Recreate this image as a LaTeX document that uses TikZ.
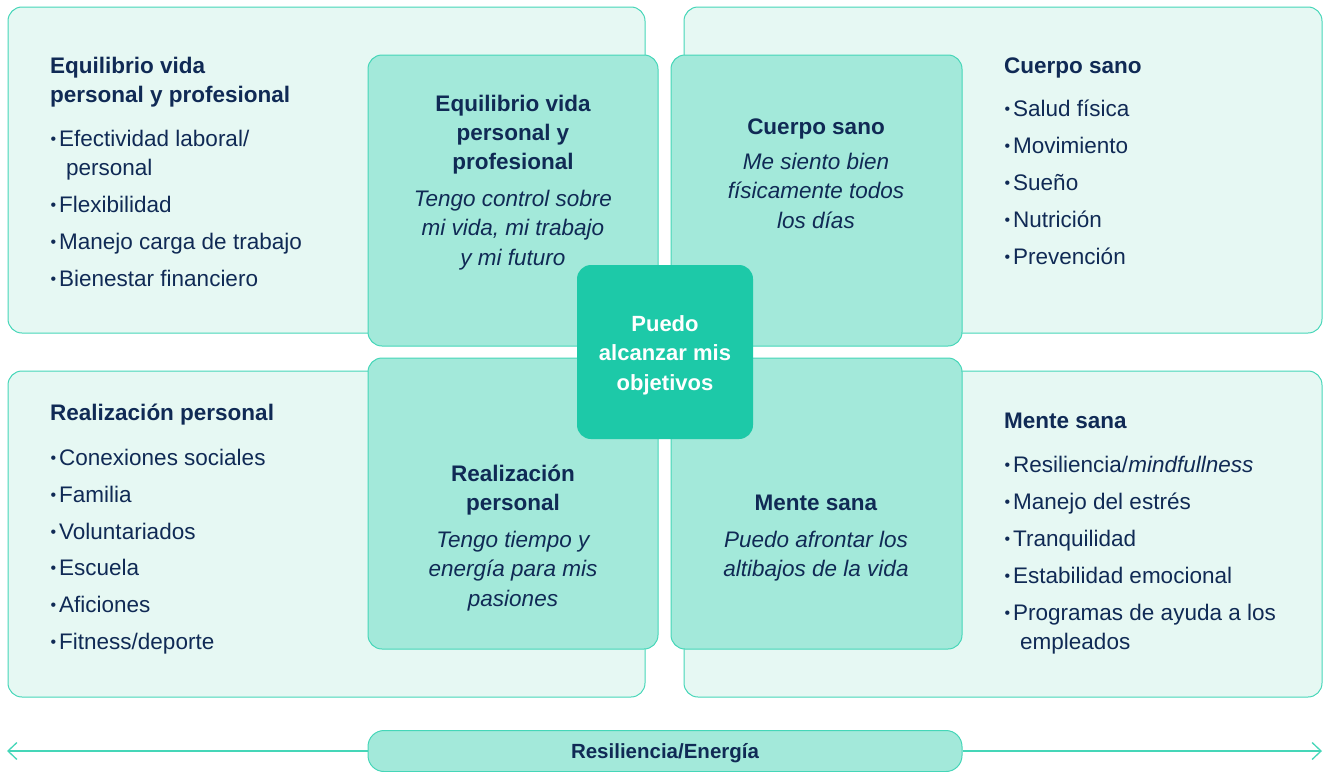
\documentclass[tikz,border=0pt]{standalone}
\usepackage{fontspec}
\setmainfont{Liberation Sans}
\usetikzlibrary{positioning, arrows.meta}
\definecolor{menta}{HTML}{E6F8F3}
\definecolor{agua}{HTML}{A3E9DA}
\definecolor{verde}{HTML}{1DC9A8}
\definecolor{borde}{HTML}{45D6B8}
\definecolor{marino}{HTML}{102A55}
\newcommand{\bul}{\makebox[0pt][r]{{\fontsize{16}{16}\selectfont\raisebox{1.5pt}{•}}\hspace{3pt}}}

\begin{document}
\begin{tikzpicture}[x=1pt,y=-1pt,
	outerbox/.style={draw=borde,fill=menta,line width=1pt,rounded corners=14pt},
	innerbox/.style={draw=borde,fill=agua,line width=1pt,rounded corners=14pt},
	ttl/.style={anchor=base west,inner sep=0,text=marino,font=\fontsize{22.5}{27}\selectfont\bfseries},
	itm/.style={anchor=base west,inner sep=0,text=marino,font=\fontsize{22.5}{27}\selectfont},
	ctrb/.style={anchor=base,inner sep=0,text=marino,font=\fontsize{22.5}{27}\selectfont\bfseries},
	ctri/.style={anchor=base,inner sep=0,text=marino,font=\fontsize{22.5}{27}\selectfont\itshape},
	hub/.style={fill=verde,rounded corners=14pt,minimum width=176pt,minimum height=174pt},
	hubtxt/.style={text=white,align=center,font=\fontsize{22}{29.5}\selectfont\bfseries},
	pill/.style={draw=borde,fill=agua,line width=1pt,rounded corners=16pt,minimum width=594pt,minimum height=41pt,text height=14pt,text depth=0pt,text=marino,font=\fontsize{20.5}{22}\selectfont\bfseries},
	flecha/.style={draw=borde,line width=1.3pt,-{Straight Barb[length=9pt,width=17pt]}}]
	\useasboundingbox (0,0) rectangle (1324,771);
	% cuadros exteriores
	\draw[outerbox] (8,7) rectangle (645,333);
	\draw[outerbox] (684,7) rectangle (1322,333);
	\draw[outerbox] (8,371) rectangle (645,697);
	\draw[outerbox] (684,371) rectangle (1322,697);
	% cuadros interiores
	\draw[innerbox] (368,55) rectangle (658,346);
	\draw[innerbox] (671,55) rectangle (962,346);
	\draw[innerbox] (368,358) rectangle (658,649);
	\draw[innerbox] (671,358) rectangle (962,649);
	% arriba izquierda
	\node[ttl] (eq1) at (50,73) {Equilibrio vida};
	\node[ttl] (eq2) at (50,102) {personal y profesional};
	\foreach \yy/\tx in {146/{\bul Efectividad laboral/},212/{\bul Flexibilidad},249/{\bul Manejo carga de trabajo},286/{\bul Bienestar financiero}}
		\node[itm] (eqi\yy) at (59,\yy) {\tx};
	\node[itm] (eqc) at (66,175) {personal};
	% arriba derecha
	\node[ttl] (cu1) at (1004,73) {Cuerpo sano};
	\foreach \yy/\tx in {116/{Salud física},153/{Movimiento},190/{Sueño},227/{Nutrición},264/{Prevención}}
		\node[itm] (cui\yy) at (1013,\yy) {\bul\tx};
	% abajo izquierda
	\node[ttl] (re1) at (50,420) {Realización personal};
	\foreach \yy/\tx in {465/{Conexiones sociales},502/{Familia},539/{Voluntariados},575/{Escuela},612/{Aficiones},649/{Fitness/deporte}}
		\node[itm] (rei\yy) at (59,\yy) {\bul\tx};
	% abajo derecha
	\node[ttl] (me1) at (1004,428) {Mente sana};
	\foreach \yy/\tx in {472/{Resiliencia/\textit{mindfullness}},509/{Manejo del estrés},546/{Tranquilidad},583/{Estabilidad emocional},620/{Programas de ayuda a los}}
		\node[itm] (mei\yy) at (1013,\yy) {\bul\tx};
	\node[itm] (mec) at (1020,649) {empleados};
	% textos interiores
	\foreach \yy/\tx in {111/Equilibrio vida,140/personal y,169/profesional}
		\node[ctrb] (ieq\yy) at (513,\yy) {\tx};
	\foreach \yy/\tx in {206/Tengo control sobre,235/{mi vida, mi trabajo},265/y mi futuro}
		\node[ctri] (ieq\yy) at (513,\yy) {\tx};
	\node[ctrb] (icu) at (816,134) {Cuerpo sano};
	\foreach \yy/\tx in {169/Me siento bien,198/físicamente todos,228/los días}
		\node[ctri] (icu\yy) at (816,\yy) {\tx};
	\foreach \yy/\tx in {481/Realización,510/personal}
		\node[ctrb] (ire\yy) at (513,\yy) {\tx};
	\foreach \yy/\tx in {547/Tengo tiempo y,576/energía para mis,606/pasiones}
		\node[ctri] (ire\yy) at (513,\yy) {\tx};
	\node[ctrb] (ime) at (816,510) {Mente sana};
	\foreach \yy/\tx in {547/Puedo afrontar los,576/altibajos de la vida}
		\node[ctri] (ime\yy) at (816,\yy) {\tx};
	% centro
	\node[hub] (obj) at (665,352) {};
	\node[hubtxt] (objt) at ([yshift=-3pt]obj.center) {Puedo\\alcanzar mis\\objetivos};
	% barra inferior
	\coordinate (izq) at (7,751);
	\coordinate (der) at (1322,751);
	\node[pill] (res) at (665,751) {Resiliencia/Energía};
	\draw[flecha] (res.west) -- (izq);
	\draw[flecha] (res.east) -- (der);
\end{tikzpicture}
\end{document}
